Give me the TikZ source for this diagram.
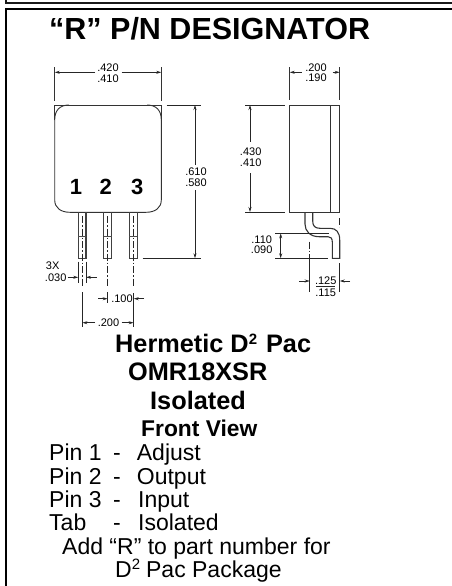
\documentclass[tikz,border=0pt]{standalone}
\usepackage{fontspec}
\setmainfont{Liberation Sans}
\usetikzlibrary{arrows.meta}
\newcommand{\supd}[2]{\raisebox{#2}{\fontsize{#1}{#1}\selectfont 2}}
\tikzset{
  x=1pt,y=-1pt,
  outl/.style={line width=0.9pt,black!80},
  ext/.style={line width=0.8pt,black!85},
  dimarr/.style={line width=0.8pt,black!85,-{Stealth[length=5pt,width=3pt]}},
  dimboth/.style={line width=0.8pt,black!85,{Stealth[length=5pt,width=3pt]}-{Stealth[length=5pt,width=3pt]}},
  ctr/.style={line width=0.7pt,black!85,dash pattern=on 7pt off 2pt on 1.5pt off 2pt},
  dimtxt/.style={inner sep=0pt,font=\fontsize{11}{11}\selectfont},
  big/.style={inner sep=0pt,anchor=base west,font=\fontsize{25.3}{25.3}\selectfont\bfseries},
  plain/.style={inner sep=0pt,anchor=base west,font=\fontsize{23}{23}\selectfont},
  pinnum/.style={inner sep=0pt,font=\fontsize{22}{22}\selectfont\bfseries},
}
\begin{document}
\begin{tikzpicture}
\useasboundingbox (0,0) rectangle (452,586);
\fill[white] (0,0) rectangle (452,586);
% frame
\draw[line width=1.6pt,black!90] (6,0) -- (6,3) -- (452,3);
\draw[line width=2pt,black] (452,9.5) -- (6,9.5) -- (6,586);
% title
\node[inner sep=0pt,anchor=base west,font=\fontsize{30.5}{30.5}\selectfont\bfseries] (title) at (49,39.5) {“R” P/N DESIGNATOR};
% front body
\draw[outl] (54.7,67.3) -- (54.7,100.7);
\draw[outl] (161.3,67.3) -- (161.3,100.7);
\draw[outl] (54.7,120) -- (54.7,105) -- (161.3,105) -- (161.3,120);
\draw[outl] (54.7,120) .. controls (54.7,110) and (60,105) .. (69,105);
\draw[outl] (161.3,120) .. controls (161.3,110) and (156,105) .. (147,105);
\draw[outl] (54.7,120) -- (54.7,200) .. controls (54.7,208) and (61,212.3) .. (70,212.3) -- (146,212.3) .. controls (155,212.3) and (161.3,208) .. (161.3,200) -- (161.3,120);
% dim .420
\draw[dimarr] (95,72.3) -- (54.7,72.3);
\draw[dimarr] (121.7,72.3) -- (161.3,72.3);
\node[dimtxt] (a1) at (108,67.5) {.420};
\node[dimtxt] (a2) at (108,78.5) {.410};
% dim .610
\draw[ext] (166.7,105) -- (200.7,105);
\draw[ext] (142.7,258.3) -- (200.7,258.3);
\draw[dimarr] (195,165) -- (195,105);
\draw[dimarr] (195,190) -- (195,258.3);
\node[dimtxt] (b1) at (196,171.5) {.610};
\node[dimtxt] (b2) at (196,183) {.580};
% pin numbers
\node[pinnum] (p1) at (76,187.3) {1};
\node[pinnum] (p2) at (105.7,187.3) {2};
\node[pinnum] (p3) at (137.3,187.3) {3};
% pins
\foreach \l/\r in {78.3/86,103.7/111.7,129.3/137.3}{
  \draw[line width=1.1pt,black!75] (\l,212.3) -- (\l,258.3) -- (\r,258.3) -- (\r,212.3);
  \draw[line width=0.8pt,black!70] (\l,236.7) -- (\r,236.7);
}
% centerlines
\draw[ctr] (82.3,216) -- (82.3,287);
\draw[ctr] (107.7,216) -- (107.7,287);
\draw[ctr] (133.7,216) -- (133.7,287);
% dim .030
\draw[ext] (78.3,261.7) -- (78.3,282.7);
\draw[ext] (86,261.7) -- (86,282.7);
\draw[dimarr] (67.7,277.3) -- (78.3,277.3);
\draw[dimarr] (96.7,277.3) -- (86,277.3);
\node[dimtxt] (c1) at (52.7,266) {3X};
\node[dimtxt] (c2) at (55.7,277.3) {.030};
% dim .100
\draw[ext] (107.7,292) -- (107.7,303);
\draw[ext] (133.7,293) -- (133.7,326.7);
\draw[dimarr] (98,298.7) -- (107.7,298.7);
\draw[dimarr] (144,298.7) -- (133.7,298.7);
\node[dimtxt] (d1) at (122,299) {.100};
% dim .200
\draw[ext] (82.3,292) -- (82.3,326.7);
\draw[dimarr] (95,322.7) -- (82.3,322.7);
\draw[dimarr] (121.7,322.7) -- (133.7,322.7);
\node[dimtxt] (e1) at (108.5,323) {.200};
% side body
\draw[outl] (289.7,67.3) -- (289.7,100);
\draw[outl] (339.7,67.3) -- (339.7,100);
\draw[outl] (289.7,105) rectangle (339.7,212);
\draw[outl] (330.3,105) -- (330.3,212);
\draw[dimarr] (301.7,72.3) -- (289.7,72.3);
\draw[dimarr] (332.7,72.3) -- (339.7,72.3);
\node[dimtxt] (f1) at (316,67.5) {.200};
\node[dimtxt] (f2) at (316,78) {.190};
% dim .430
\draw[ext] (245,105) -- (285,105);
\draw[ext] (245,212) -- (285,212);
\draw[dimarr] (250,141.7) -- (250,105);
\draw[dimarr] (250,173.3) -- (250,212);
\node[dimtxt] (g1) at (250.7,151.7) {.430};
\node[dimtxt] (g2) at (250.7,162.7) {.410};
% lead
\draw[line width=1.1pt,black!80] (305,212) -- (305,224) .. controls (305,231) and (310,236.7) .. (319,236.7) -- (328,236.7) .. controls (331,236.7) and (332.3,238.5) .. (332.3,242) -- (332.3,258.3) -- (339.7,258.3) -- (339.7,240) .. controls (339.7,232) and (336,228.3) .. (330,228.3) -- (320,228.3) .. controls (315,228.3) and (312.7,226) .. (312.7,221) -- (312.7,212);
% dim .110
\draw[ext] (275,233.3) -- (329,233.3);
\draw[ext] (275,258.3) -- (327.7,258.3);
\draw[dimboth] (280.7,233.3) -- (280.7,258.3);
\node[dimtxt] (h1) at (261.7,239.7) {.110};
\node[dimtxt] (h2) at (261.7,249.5) {.090};
% dim .125
\draw[ctr] (309.7,241.7) -- (309.7,258);
\draw[ext] (309.7,258) -- (309.7,291.7);
\draw[ctr] (339.7,218) -- (339.7,227);
\draw[ext] (339.7,263.3) -- (339.7,291.7);
\draw[dimarr] (299,281) -- (309.7,281);
\draw[dimarr] (350,281) -- (339.7,281);
\node[dimtxt] (i1) at (325.7,280.5) {.125};
\draw[ext] (316,286.7) -- (335,286.7);
\node[dimtxt] (i2) at (325.7,292.5) {.115};
% captions
\node[big] (t1) at (115,352.7) {Hermetic D\supd{15}{8pt}\hspace{9pt}Pac};
\node[big] (t2) at (128,380) {OMR18XSR};
\node[big] (t3) at (150,409) {Isolated};
\node[big,font=\fontsize{22.8}{22.8}\selectfont\bfseries] (t4) at (141,436.7) {Front View};
\node[plain] (r1) at (49,460.7) {Pin 1};
\node[plain] (r1d) at (113,460.7) {-};
\node[plain] (r1t) at (136.7,460.7) {Adjust};
\node[plain] (r2) at (49,484) {Pin 2};
\node[plain] (r2d) at (113,484) {-};
\node[plain] (r2t) at (136.7,484) {Output};
\node[plain] (r3) at (49,507.3) {Pin 3};
\node[plain] (r3d) at (113,507.3) {-};
\node[plain] (r3t) at (138,507.3) {Input};
\node[plain] (r4) at (49,530.7) {Tab};
\node[plain] (r4d) at (113,530.7) {-};
\node[plain] (r4t) at (138,530.7) {Isolated};
\node[plain] (r5) at (62,554) {Add “R” to part number for};
\node[plain] (r6) at (115,577.3) {D\supd{15}{7.5pt}\hspace{6pt}Pac Package};
\end{tikzpicture}
\end{document}
